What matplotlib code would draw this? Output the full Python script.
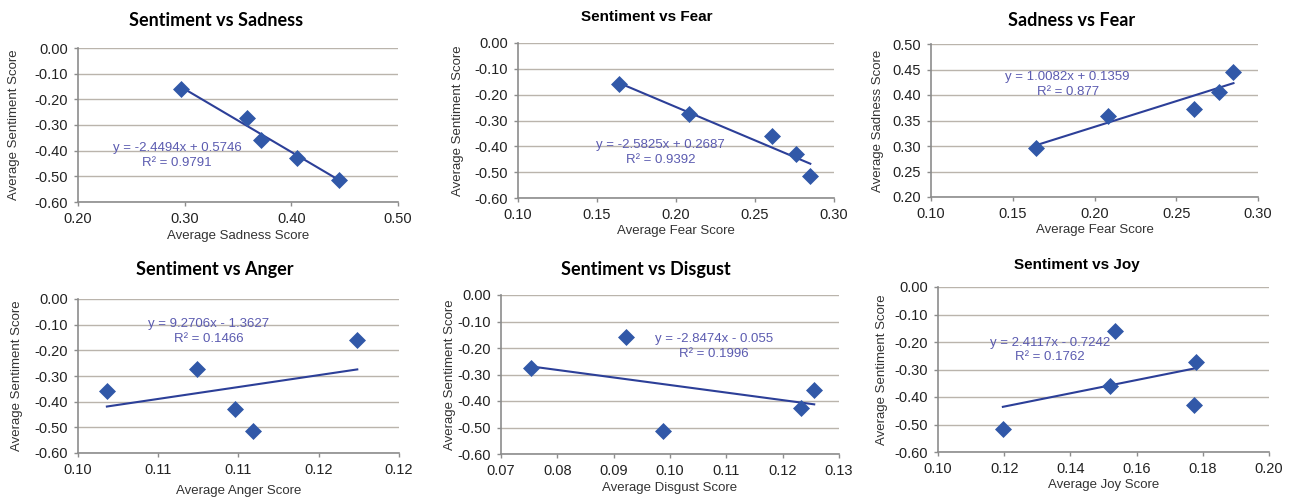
import numpy as np
import matplotlib
matplotlib.use("Agg")
import matplotlib.pyplot as plt

# average scores per group (five groups)
sentiment = [-0.160, -0.274, -0.359, -0.428, -0.515]
sadness = [0.297, 0.358, 0.372, 0.405, 0.445]
fear = [0.164, 0.208, 0.261, 0.276, 0.285]
anger = [0.1174, 0.1074, 0.1018, 0.1098, 0.1109]
disgust = [0.0922, 0.0754, 0.1256, 0.1233, 0.0987]
joy = [0.1535, 0.1780, 0.1520, 0.1772, 0.1196]

# trendline equations shown in each panel (slope, intercept, r2 text)
fits = [
    (-2.4494, 0.5746, "y = -2.4494x + 0.5746", "R² = 0.9791"),
    (-2.5825, 0.2687, "y = -2.5825x + 0.2687", "R² = 0.9392"),
    (1.0082, 0.1359, "y = 1.0082x + 0.1359", "R² = 0.877"),
    (9.2706, -1.3627, "y = 9.2706x - 1.3627", "R² = 0.1466"),
    (-2.8474, -0.055, "y = -2.8474x - 0.055", "R² = 0.1996"),
    (2.4117, -0.7242, "y = 2.4117x - 0.7242", "R² = 0.1762"),
]

titles = ["Sentiment vs Sadness", "Sentiment vs Fear", "Sadness vs Fear",
          "Sentiment vs Anger", "Sentiment vs Disgust", "Sentiment vs Joy"]
xlabels = ["Average Sadness Score", "Average Fear Score", "Average Fear Score",
           "Average Anger Score", "Average Disgust Score", "Average Joy Score"]
ylabels = ["Average Sentiment Score", "Average Sentiment Score", "Average Sadness Score",
           "Average Sentiment Score", "Average Sentiment Score", "Average Sentiment Score"]
xs = [sadness, fear, fear, anger, disgust, joy]
ys = [sentiment, sentiment, sadness, sentiment, sentiment, sentiment]

xticks = [
    [0.20, 0.30, 0.40, 0.50],
    [0.10, 0.15, 0.20, 0.25, 0.30],
    [0.10, 0.15, 0.20, 0.25, 0.30],
    [0.100, 0.105, 0.110, 0.115, 0.120],
    [0.07, 0.08, 0.09, 0.10, 0.11, 0.12, 0.13],
    [0.10, 0.12, 0.14, 0.16, 0.18, 0.20],
]
anger_ticklabels = ["0.10", "0.11", "0.11", "0.12", "0.12"]
sent_yticks = [0.00, -0.10, -0.20, -0.30, -0.40, -0.50, -0.60]
sad_yticks = [0.50, 0.45, 0.40, 0.35, 0.30, 0.25, 0.20]

# layout in pixels (left, top, right, bottom) on the 1292x497 canvas
W, H = 1292, 497
boxes = [(78, 48, 398, 202), (518, 43, 834, 198), (931, 44, 1258, 197),
         (78, 299, 399, 453), (501, 295, 839, 454), (938, 287, 1269, 452)]
title_pos = [(216, 21), (647, 17), (1072, 21), (215, 270), (646, 269), (1077, 265)]
title_font = ["Lato", "Liberation Sans", "Lato", "Lato", "Lato", "Liberation Sans"]
title_size = [13, 11, 13, 13, 13, 11]
eq_pos = [(0.31, 0.30), (0.452, 0.295), (0.418, 0.737),
          (0.406, 0.79), (0.63, 0.676), (0.339, 0.619)]
ylab_x = [-0.20, -0.189, -0.161, -0.189, -0.15, -0.169]
xlab_y = [-0.221, -0.211, -0.214, -0.249, -0.212, -0.203]

mark_col = "#3158a8"
line_col = "#2c3f98"
text_col = "#5b5bb0"
grid_col = "#bab4ac"
spine_col = "#8c8c8c"

plt.rcParams['font.family'] = ['Liberation Sans', 'DejaVu Sans']

fig = plt.figure(figsize=(W / 100, H / 100), dpi=100)

for i in range(6):
    l, t, r, b = boxes[i]
    ax = fig.add_axes([l / W, 1 - b / H, (r - l) / W, (b - t) / H])
    x = np.array(xs[i])
    y = np.array(ys[i])
    slope, icpt, eq, r2 = fits[i]

    xx = np.array([x.min(), x.max()])
    ax.plot(xx, slope * xx + icpt, color=line_col, lw=1.5, zorder=2)
    ax.scatter(x, y, marker="D", s=75, color=mark_col, zorder=3, linewidths=0)

    if i == 2:
        yt = sad_yticks
    else:
        yt = sent_yticks
    ax.set_yticks(yt)
    ax.set_ylim(min(yt), max(yt))
    ax.set_yticklabels(["%.2f" % v for v in yt])
    ax.set_xticks(xticks[i])
    ax.set_xlim(xticks[i][0], xticks[i][-1])
    if i == 3:
        ax.set_xticklabels(anger_ticklabels)
    else:
        ax.set_xticklabels(["%.2f" % v for v in xticks[i]])

    ax.grid(axis="y", color=grid_col, lw=1.0)
    ax.set_axisbelow(True)
    for s in ["top", "right"]:
        ax.spines[s].set_visible(False)
    for s in ["left", "bottom"]:
        ax.spines[s].set_color(spine_col)
        ax.spines[s].set_linewidth(1.2)
    ax.tick_params(axis="both", length=3, width=1, color=spine_col,
                   labelsize=10.5, labelcolor="#222222", pad=4)

    ax.set_xlabel(xlabels[i], fontsize=9.5, color="#333333")
    ax.xaxis.set_label_coords(0.5, xlab_y[i])
    ax.xaxis.label.set_va("center")
    ax.set_ylabel(ylabels[i], fontsize=9.5, color="#333333")
    ax.yaxis.set_label_coords(ylab_x[i], 0.5)
    ax.yaxis.label.set_va("center")

    ax.text(eq_pos[i][0], eq_pos[i][1], eq + "\n" + r2, transform=ax.transAxes,
            ha="center", va="center", multialignment="center",
            fontsize=9.5, color=text_col, linespacing=1.3)

    tx, ty = title_pos[i]
    fig.text(tx / W, 1 - ty / H, titles[i], ha="center", va="center",
             fontsize=title_size[i], fontweight="bold",
             family=[title_font[i], "DejaVu Sans"])

fig.savefig("out.png", dpi=100, facecolor="white")
